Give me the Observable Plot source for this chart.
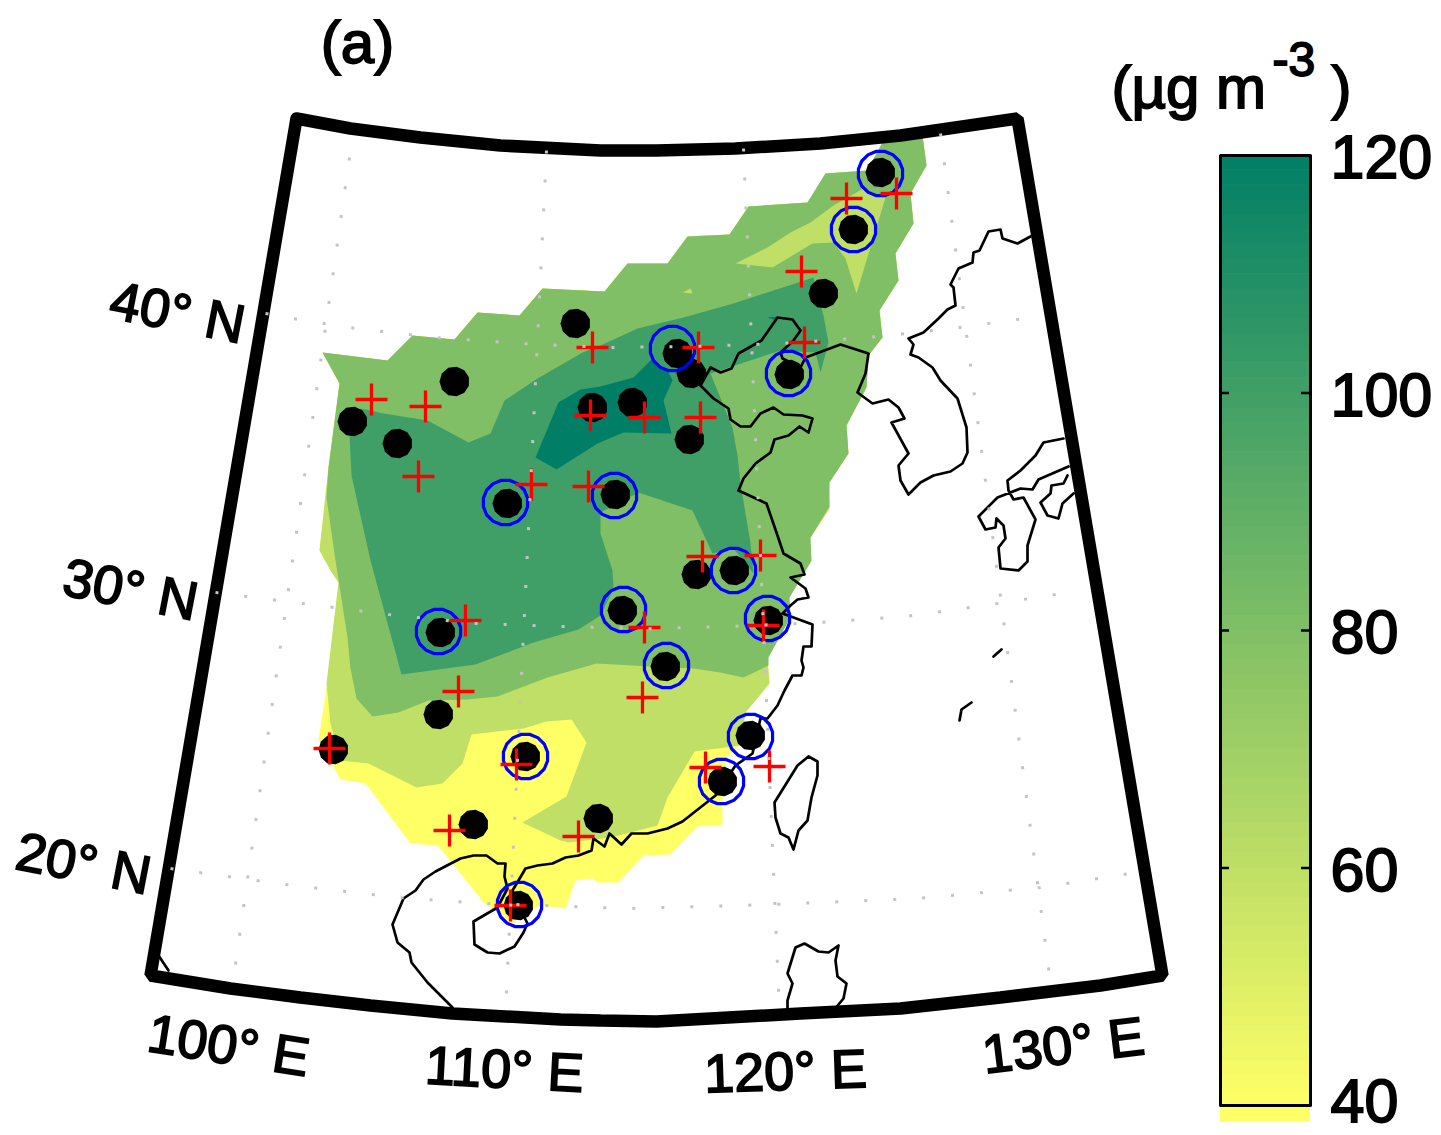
<!DOCTYPE html>
<html>
<head>
<meta charset="utf-8">
<script src="https://cdn.jsdelivr.net/npm/d3@7"></script>
<script src="https://cdn.jsdelivr.net/npm/@observablehq/plot@0.6"></script>
<style>
html,body{margin:0;padding:0;background:#fff}
#chart{position:relative;width:1441px;height:1135px;overflow:hidden}
#chart svg{position:absolute;left:0;top:0}
#chart svg text{stroke:#000;stroke-width:1.8px}
</style>
</head>
<body>
<div id="chart"></div>
<script>
// All geometry is in map-plane units of the figure (x east, y south).
const levels = [40, 60, 80, 100, 120];
const colorStops = ["#ffff66", "#007f66"];

// Filled contour regions (PM concentration, µg m-3)
const contour40 = [[322,352],[387,360],[412,335],[454,339],[477,312],[519,315],[542,288],[604,291],[627,263],[667,263],[687,236],[729,234],[748,206],[807,202],[825,173],[867,170],[883,140],[922,135],[926,165],[910,193],[913,223],[895,253],[898,280],[879,310],[882,337],[868,355],[866,387],[846,425],[848,453],[828,483],[829,508],[809,539],[810,562],[788,598],[789,617],[767,657],[769,683],[745,712],[737,732],[738,746],[726,757],[722,790],[722,825],[697,826],[670,854],[643,855],[618,882],[597,882],[592,878],[575,880],[565,908],[540,905],[520,915],[510,925],[505,918],[483,902],[452,863],[437,845],[410,843],[365,783],[340,779],[318,740],[326,687],[338,582],[330,570],[319,550],[328,467],[339,383]];
const contour60 = [[322,352],[387,360],[412,335],[454,339],[477,312],[519,315],[542,288],[604,291],[627,263],[667,263],[687,236],[729,234],[748,206],[807,202],[825,173],[867,170],[883,140],[922,135],[926,165],[910,193],[913,223],[895,253],[898,280],[879,310],[882,337],[868,355],[866,387],[846,425],[848,453],[828,483],[829,508],[809,539],[810,562],[788,598],[789,617],[767,657],[769,683],[745,712],[740,745],[694,751],[667,797],[657,825],[630,832],[610,837],[568,842],[560,840],[522,822],[566,796],[586,742],[571,719],[546,721],[523,728],[471,734],[462,763],[442,783],[416,787],[368,763],[340,760],[330,723],[326,683],[338,582],[330,570],[319,550],[328,467],[339,383]];
const contour80 = [[322,352],[387,360],[412,335],[454,339],[477,312],[519,315],[542,288],[604,291],[627,263],[667,263],[687,236],[729,234],[748,206],[807,202],[825,173],[867,170],[883,140],[922,135],[926,165],[910,193],[913,223],[895,253],[898,280],[879,310],[882,337],[868,355],[866,387],[846,425],[848,453],[829,482],[829,506],[810,537],[811,560],[789,597],[790,617],[768,657],[768,665],[743,677],[720,672],[693,668],[650,666],[596,663],[547,677],[497,696],[467,699],[428,700],[398,712],[372,716],[356,698],[350,668],[347,637],[335,560],[326,497],[328,467],[339,383]];
const low60North = [[735,263],[767,247],[790,232],[810,222],[833,205],[863,188],[885,197],[856,293],[845,258],[833,242],[812,243],[772,267]];
const low60Islet = [[682,292],[690,288],[692,293]];
const contour100 = [[349,435],[360,408],[383,413],[427,420],[468,442],[490,433],[504,400],[537,378],[582,352],[600,345],[637,328],[683,317],[733,303],[773,290],[813,277],[823,315],[828,342],[820,372],[815,352],[780,350],[710,373],[732,427],[737,455],[740,483],[745,513],[750,543],[753,573],[733,548],[712,553],[692,510],[638,492],[600,512],[600,533],[612,570],[613,588],[600,615],[578,629],[533,642],[475,664],[401,674],[370,560],[351,475]];
const contour120 = [[535,457],[558,402],[580,389],[600,386],[633,377],[652,358],[668,372],[672,380],[663,400],[671,433],[623,432],[597,443],[556,469]];
const contour120Islet = [[767,317],[777,316],[775,320]];

// Coastlines
const coastChina = [[452,1007],[427,982],[411,962],[409,952],[397,942],[392,924],[403,898],[415,890],[423,879],[435,871],[460,858],[473,855],[486,855],[497,863],[505,863],[504,876],[507,888],[497,907],[473,921],[474,944],[487,952],[499,953],[514,946],[523,932],[527,923],[518,905],[512,890],[518,880],[525,868],[537,865],[552,863],[565,857],[578,855],[591,850],[593,838],[604,846],[609,833],[621,844],[631,833],[647,833],[667,828],[682,821],[715,795],[735,765],[752,753],[760,718],[767,718],[777,705],[784,690],[792,675],[801,675],[803,667],[801,660],[803,646],[811,646],[812,624],[793,617],[782,613],[790,605],[797,599],[808,597],[805,588],[790,577],[804,574],[800,563],[783,553],[777,535],[766,503],[738,490],[743,478],[755,463],[770,452],[774,439],[788,435],[799,426],[808,432],[812,418],[802,415],[783,414],[773,407],[760,413],[750,426],[740,426],[730,419],[728,408],[713,398],[700,385],[710,367],[720,372],[731,368],[738,353],[761,340],[777,317],[792,319],[800,330],[793,340],[780,352],[782,358],[800,367],[805,357],[840,344],[868,353],[865,373],[857,392],[872,403],[888,399],[898,407],[904,418],[891,422],[908,453],[898,465],[900,480],[908,494],[920,482],[933,475],[950,471],[962,463],[967,452],[966,427],[957,398],[940,380],[932,367],[918,357],[910,354],[913,344],[908,338],[923,332],[938,318],[947,309],[955,305],[953,287],[950,284],[958,268],[972,262],[973,252],[979,250],[988,231],[1000,229],[1002,238],[1017,243],[1030,236]];
const coastHonshu = [[1063,438],[1043,442],[1035,455],[1020,470],[1007,480],[1008,490],[1013,499],[1023,497],[1035,519],[1027,545],[1027,561],[1018,570],[1000,568],[998,547],[1005,538],[1003,525],[996,518],[995,527],[985,529],[978,516],[997,497],[1020,488],[1032,489],[1038,479],[1068,466]];
const coastShikoku = [[1073,493],[1062,503],[1058,518],[1047,515],[1040,502],[1050,493],[1051,485],[1063,483],[1067,475]];
const coastTaiwan = [[808,756],[817,761],[817,775],[811,797],[807,820],[798,830],[793,849],[788,837],[780,833],[775,817],[774,802],[797,765],[808,756]];
const coastLuzon = [[787,1011],[787,1000],[792,983],[787,973],[795,947],[804,943],[818,951],[828,952],[838,945],[835,960],[837,976],[846,983],[843,998],[833,1010]];
const coastIslet1 = [[993,656],[1001,649]];
const coastIslet2 = [[959,720],[961,709],[971,702]];
const coastCorner = [[158,955],[168,970]];

// Map frame
const frame = [[296,118],[350,128],[420,137],[500,145],[600,150],[656,150],[735,148],[820,143],[900,135],[1017,118],[1162,975],[1100,985],[1000,997],[900,1008],[800,1013],[656,1021],[600,1020],[560,1019],[452,1013],[370,1005],[300,997],[230,988],[150,975],[296,118]];

// Graticule (dotted)
const meridian100 = [[349,157],[232,985]];
const meridian110 = [[546,150],[505,1012]];
const meridian120 = [[743,148],[779,1014]];
const meridian130 = [[940,133],[1049,975]];
const parallel40 = [[265,313],[292,318],[348,327],[434,337],[521,343],[607,347],[694,346],[780,343],[867,337],[952,328],[1038,316]];
const parallel30 = [[215,592],[302,603],[388,614],[474,623],[560,626],[646,628],[732,626],[818,622],[905,616],[991,604],[1080,590]];
const parallel20 = [[170,868],[285,884],[398,897],[484,903],[628,908],[772,904],[916,898],[1040,887],[1130,873]];

// Stations
const modelSites = [[575,323],[454,381],[352,421],[397,443],[592,407],[632,402],[507,503],[615,494],[689,439],[677,353],[691,373],[880,172],[853,229],[823,293],[789,374],[734,570],[696,574],[622,610],[768,620],[665,666],[440,632],[438,714],[333,749],[525,756],[750,735],[722,781],[598,818],[473,824],[518,905]];
const ringSites = [[880,173],[853,229],[672,348],[788,373],[505,502],[614,495],[733,570],[623,609],[767,618],[666,665],[438,631],[525,756],[750,736],[721,781],[519,904]];
const obsSites = [[371,399],[425,406],[418,476],[531,484],[590,415],[588,486],[592,347],[698,347],[804,342],[801,271],[846,198],[896,193],[644,417],[700,417],[702,556],[760,555],[644,627],[763,625],[642,697],[465,620],[458,691],[329,748],[516,764],[449,830],[578,836],[705,767],[769,766],[510,905]];

// Labels
const axisLabels = [
  {t:"40° N", x:177, y:313, r:11},
  {t:"30° N", x:130, y:590, r:11},
  {t:"20° N", x:83,  y:864, r:11},
  {t:"100° E", x:228, y:1046, r:9},
  {t:"110° E", x:504, y:1070, r:3},
  {t:"120° E", x:785, y:1072, r:-2},
  {t:"130° E", x:1063, y:1046, r:-7}
];
const panelLabel = [{t:"(a)", x:357, y:43}];
const unitLabels = [
  {t:"(µg m", x:1111, y:88, s:60},
  {t:"-3", x:1272, y:60, s:48},
  {t:")", x:1331, y:88, s:60}
];

const font = "Liberation Sans, Arial, sans-serif";
const colorScale = {type:"linear", domain:[40,120], range:colorStops};
const X = d => d[0], Y = d => d[1];
const region = (pts, level) => Plot.line(pts, {x:X, y:Y, fill:() => level});
const coast = pts => Plot.line(pts, {x:X, y:Y, stroke:"#000", strokeWidth:2.7, strokeLinejoin:"round"});
const grid = pts => Plot.line(pts, {x:X, y:Y, stroke:"#c4c4c4", strokeWidth:3, strokeDasharray:"3 26", strokeLinecap:"butt"});
const ngon = n => ({draw(c, size){
  const r = Math.sqrt(size/Math.PI);
  for(let i=0;i<n;i++){const a=2*Math.PI*(i+.5)/n, px=r*Math.cos(a), py=r*Math.sin(a); i?c.lineTo(px,py):c.moveTo(px,py);}
  c.closePath();
}});
const cross = {draw(c, size){
  const r = Math.sqrt(size/Math.PI);
  c.moveTo(-r,0);c.lineTo(r,0);c.moveTo(0,-r);c.lineTo(0,r);
}};

const map = Plot.plot({
  width:1441, height:1135, margin:0,
  x:{domain:[0,1441], range:[0,1441], axis:null},
  y:{domain:[0,1135], range:[0,1135], axis:null},
  color:colorScale,
  style:{background:"transparent", fontFamily:font},
  marks:[
    region(contour40, 40),
    region(contour60, 60),
    region(contour80, 80),
    region(low60North, 60),
    region(low60Islet, 60),
    region(contour100, 100),
    region(contour120, 120),
    region(contour120Islet, 120),
    coast(coastChina), coast(coastHonshu), coast(coastShikoku), coast(coastTaiwan),
    coast(coastLuzon), coast(coastIslet1), coast(coastIslet2), coast(coastCorner),
    Plot.dot(modelSites, {x:X, y:Y, r:15, fill:"#000", symbol:ngon(11)}),
    Plot.dot(ringSites, {x:X, y:Y, r:22.5, stroke:"#0000ff", strokeWidth:3.2, fill:"none", symbol:ngon(16)}),
    Plot.dot(obsSites, {x:X, y:Y, r:16, stroke:"#ff0000", strokeWidth:3.3, fill:"none", symbol:cross, strokeLinecap:"butt"}),
    Plot.line(frame, {x:X, y:Y, stroke:"#000", strokeWidth:12.5, strokeLinejoin:"miter"}),
    grid(meridian100), grid(meridian110), grid(meridian120), grid(meridian130),
    grid(parallel40), grid(parallel30), grid(parallel20),
    Plot.text(axisLabels, {x:"x", y:"y", text:"t", rotate:"r", fontSize:54, fill:"#000"}),
    Plot.text(panelLabel, {x:"x", y:"y", text:"t", fontSize:60, fill:"#000"}),
    Plot.text(unitLabels, {x:"x", y:"y", text:"t", fontSize:d=>d.s, textAnchor:"start", fill:"#000"})
  ]
});

// Colour bar: own vertical value scale
const barTicks = levels;
const barSteps = d3.range(40, 120, 1.25);
const bar = Plot.plot({
  width:1441, height:1135,
  marginLeft:1220, marginRight:131, marginTop:155, marginBottom:30,
  x:{domain:[0,1], axis:null},
  y:{domain:[40,120]},
  color:colorScale,
  style:{background:"transparent", fontFamily:font},
  marks:[
    Plot.rectY([39], {x1:0, x2:1, y1:38.6, y2:40, fill:"#ffff66", clip:false}),
    Plot.rectY(barSteps, {x1:0, x2:1, y1:d=>d, y2:d=>d+1.3, fill:d=>d+.6}),
    Plot.ruleY(barTicks, {x1:0, x2:0.1, stroke:"#000", strokeWidth:2.5}),
    Plot.ruleY(barTicks, {x1:0.9, x2:1, stroke:"#000", strokeWidth:2.5}),
    Plot.axisY({anchor:"right", ticks:barTicks.slice(1), tickSize:0, tickPadding:20, fontSize:61, dy:3, fill:"#000", label:null, tickFormat:d3.format("d")}),
    Plot.axisY({anchor:"right", ticks:barTicks.slice(0,1), tickSize:0, tickPadding:20, fontSize:61, dy:-3, fill:"#000", label:null, tickFormat:d3.format("d")}),
    Plot.line([[0,40],[1,40],[1,120],[0,120],[0,40]], {x:X, y:Y, stroke:"#000", strokeWidth:3})
  ]
});

const host = document.getElementById("chart");
host.append(map, bar);
</script>
</body>
</html>
